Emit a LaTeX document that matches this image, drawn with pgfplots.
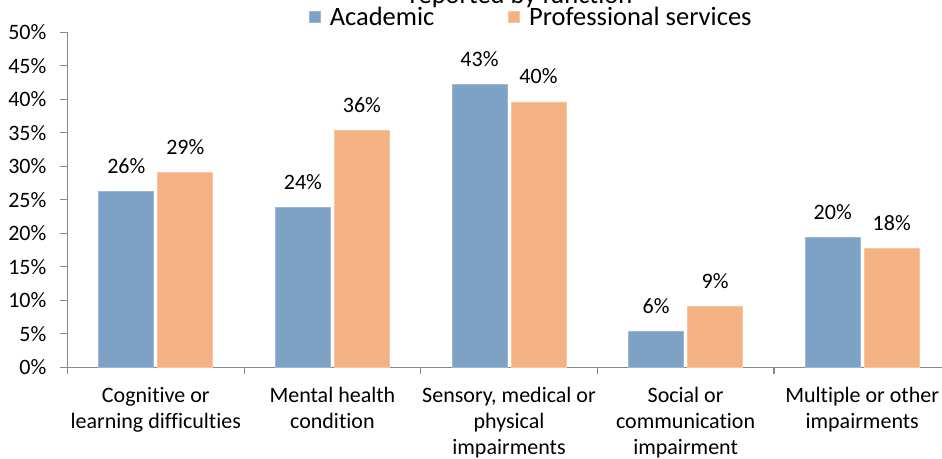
\documentclass[border=0pt]{standalone}
\usepackage{fontspec}
\setmainfont{Carlito}[Ligatures=NoCommon]
\usepackage{pgfplots}
\usepackage{pgfplotstable}
\pgfplotsset{compat=1.18}
\definecolor{acad}{HTML}{7EA1C6}
\definecolor{prof}{HTML}{F4B183}
\definecolor{axgray}{HTML}{898989}
\newcommand{\lab}{\fontsize{22bp}{26bp}\selectfont}
\newcommand{\leg}{\fontsize{26.5bp}{31bp}\selectfont}

\pgfplotstableread{
x y lab
0 26.2 26
1 23.8 24
2 42.2 43
3 5.4 6
4 19.4 20
}\acadtab
\pgfplotstableread{
x y lab
0 29.1 29
1 35.3 36
2 39.6 40
3 9.1 9
4 17.7 18
}\proftab

\begin{document}
\begin{tikzpicture}
\node[anchor=base, font=\leg, inner sep=0pt] at (521bp,-3bp) {reported by function};
\begin{axis}[
  at={(67.5bp,-367.3bp)}, anchor=south west,
  scale only axis, width=883bp, height=335bp,
  xmin=-0.5, xmax=4.5, ymin=0, ymax=50,
  axis lines*=left,
  axis line style={axgray, line width=1.2bp},
  tick style={axgray, line width=1.2bp},
  tick align=outside,
  major tick length=7bp, minor tick length=7bp,
  /pgf/number format/assume math mode=true,
  ytick={0,5,...,50},
  yticklabel={\pgfmathprintnumber{\tick}\%},
  yticklabel style={font=\lab, inner sep=0pt, xshift=-14bp},
  xtick={0,1,2,3,4},
  major x tick style={draw=none},
  minor xtick={-0.5,0.5,1.5,2.5,3.5,4.5},
  xticklabels={{Cognitive or\\learning difficulties},{Mental health\\condition},{Sensory, medical or\\physical\\impairments},{Social or\\communication\\impairment},{Multiple or other\\impairments}},
  xticklabel style={font=\lab, align=center, inner sep=0pt, yshift=-13bp},
  ybar=4bp, bar width=55bp,
  point meta=explicit symbolic,
  nodes near coords={\pgfplotspointmeta\%},
  every node near coord/.append style={font=\lab, inner sep=0pt, yshift=18bp, anchor=base, text=black},
  legend columns=2,
  legend style={draw=none, fill=none, font=\leg, inner sep=0pt, outer sep=0pt,
    at={(0.2735,1.045)}, anchor=west, nodes={inner sep=0pt},
    /tikz/every odd column/.append style={column sep=9bp},
    /tikz/every even column/.append style={column sep=74bp}},
  legend image code/.code={\fill[#1] (0bp,-5.5bp) rectangle (11bp,5.5bp);},
]
\addplot[fill=acad, draw=acad!75!white, line width=0.8bp] table[x=x, y=y, meta=lab] {\acadtab};
\addplot[fill=prof, draw=prof!75!white, line width=0.8bp] table[x=x, y=y, meta=lab] {\proftab};
\legend{Academic, Professional services}
\end{axis}
\pgfresetboundingbox
\useasboundingbox (0,0) rectangle (942bp,-459bp);
\end{tikzpicture}
\end{document}
